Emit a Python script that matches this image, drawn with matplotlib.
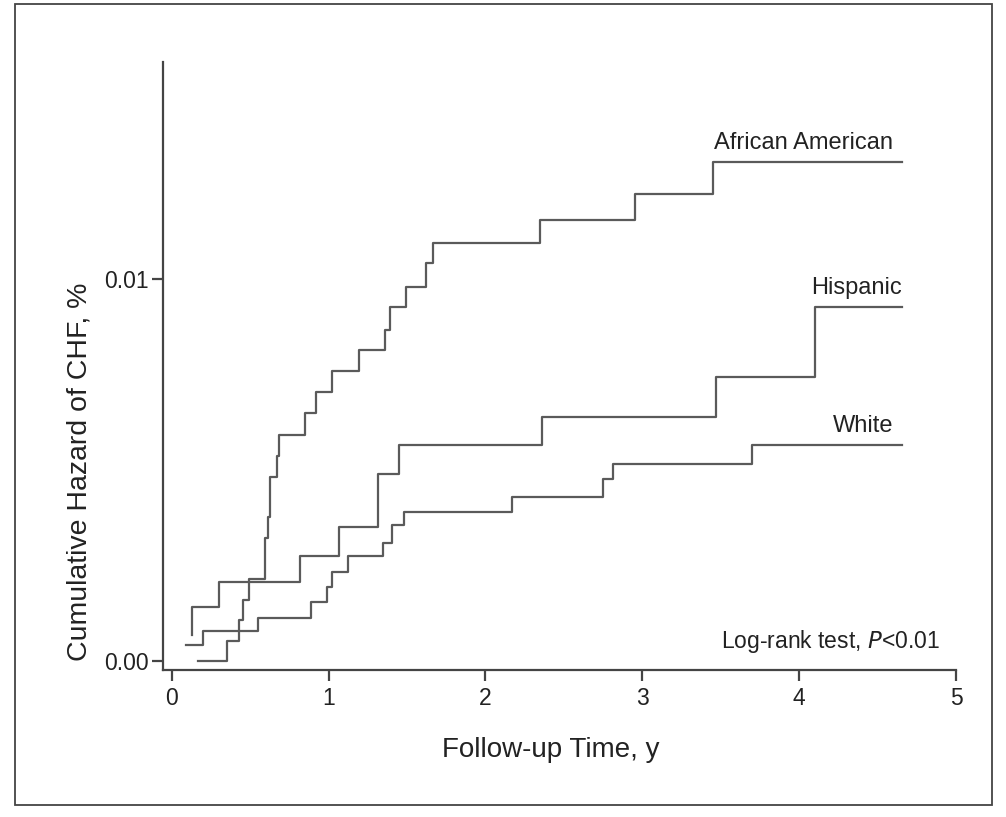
import matplotlib
matplotlib.use("Agg")
import matplotlib.pyplot as plt
from matplotlib.patches import Rectangle

plt.rcParams['font.family'] = ['Liberation Sans', 'DejaVu Sans']

# Data (follow-up time in years, cumulative hazard)
aa_times = [0.170, 0.351, 0.427, 0.453, 0.495, 0.595, 0.616, 0.627, 0.673, 0.686,
            0.852, 0.918, 1.024, 1.192, 1.358, 1.391, 1.493, 1.619, 1.663, 2.345,
            2.951, 3.448]
aa_haz = [0.0, 5.16e-4, 10.66e-4, 15.90e-4, 21.48e-4, 32.07e-4, 37.57e-4, 48.21e-4,
          53.63e-4, 59.13e-4, 64.97e-4, 70.40e-4, 75.90e-4, 81.32e-4, 86.64e-4,
          92.59e-4, 97.98e-4, 104.11e-4, 109.51e-4, 115.46e-4, 122.19e-4, 130.65e-4]

hisp_times = [0.129, 0.129, 0.303, 0.818, 1.066, 1.317, 1.449, 2.358, 3.469, 4.100]
hisp_haz = [6.73e-4, 14.07e-4, 20.62e-4, 27.43e-4, 34.95e-4, 48.91e-4, 56.51e-4,
            63.85e-4, 74.33e-4, 92.59e-4]

white_times = [0.091, 0.201, 0.547, 0.888, 0.988, 1.024, 1.126, 1.349, 1.402, 1.482,
               2.167, 2.751, 2.815, 3.697]
white_haz = [4.03e-4, 7.86e-4, 11.19e-4, 15.46e-4, 19.39e-4, 23.32e-4, 27.43e-4,
             30.91e-4, 35.47e-4, 38.88e-4, 42.81e-4, 47.60e-4, 51.61e-4, 56.51e-4]

end_time = 4.655
series_names = ["African American", "Hispanic", "White"]
x_ticks = [0, 1, 2, 3, 4, 5]
y_ticks = [0.0, 0.01]
y_ticklabels = ["0.00", "0.01"]

W, H = 1006, 817
fig = plt.figure(figsize=(W / 100, H / 100), dpi=100)
fig.patch.set_facecolor("white")

# outer frame
fig.add_artist(Rectangle((15 / W, 1 - 805 / H), (992 - 15) / W, (805 - 4) / H,
                         transform=fig.transFigure, fill=False,
                         edgecolor="#444444", linewidth=1.3))

ax = fig.add_axes([162.7 / W, 1 - 670 / H, (956 - 162.7) / W, (670 - 62) / H])
line_color = "#5a5a5a"
for times, haz in [(aa_times, aa_haz), (hisp_times, hisp_haz), (white_times, white_haz)]:
    xs = list(times) + [end_time]
    ys = list(haz) + [haz[-1]]
    ax.step(xs, ys, where="post", color=line_color, linewidth=1.6)

ax.set_xlim(-0.0574, 5.0)
ax.set_ylim(-0.000244, 0.015685)
ax.set_xticks(x_ticks)
ax.set_xticklabels([str(t) for t in x_ticks])
ax.set_yticks(y_ticks)
ax.set_yticklabels(y_ticklabels)

for s in ["top", "right"]:
    ax.spines[s].set_visible(False)
for s in ["left", "bottom"]:
    ax.spines[s].set_color("#444444")
    ax.spines[s].set_linewidth(1.6)

txt_color = "#222222"
ax.tick_params(axis="both", direction="out", length=8, width=1.6, color="#444444",
               labelsize=16.5, labelcolor=txt_color, pad=2)
ax.tick_params(axis="x", pad=4)

ax.set_xlabel("Follow-up Time, y", fontsize=20, color=txt_color)
ax.xaxis.set_label_coords((551 - 162.7) / 793.3, (670 - 737) / 608)
ax.set_ylabel("Cumulative Hazard of CHF, %", fontsize=20.5, color=txt_color,
              va="center")
ax.yaxis.set_label_coords((80 - 162.7) / 793.3, (670 - 472) / 608)

ax.text(4.6, aa_haz[-1] + 0.00022, series_names[0], ha="right", va="bottom",
        fontsize=17, color=txt_color)
ax.text(4.655, hisp_haz[-1] + 0.00022, series_names[1], ha="right", va="bottom",
        fontsize=17, color=txt_color)
ax.text(4.6, white_haz[-1] + 0.00022, series_names[2], ha="right", va="bottom",
        fontsize=17, color=txt_color)
ax.text(4.895, 0.00015, r"Log-rank test, $\it{P}$<0.01", ha="right", va="bottom",
        fontsize=16.5, color=txt_color)

fig.savefig("out.png", dpi=100, facecolor="white")
